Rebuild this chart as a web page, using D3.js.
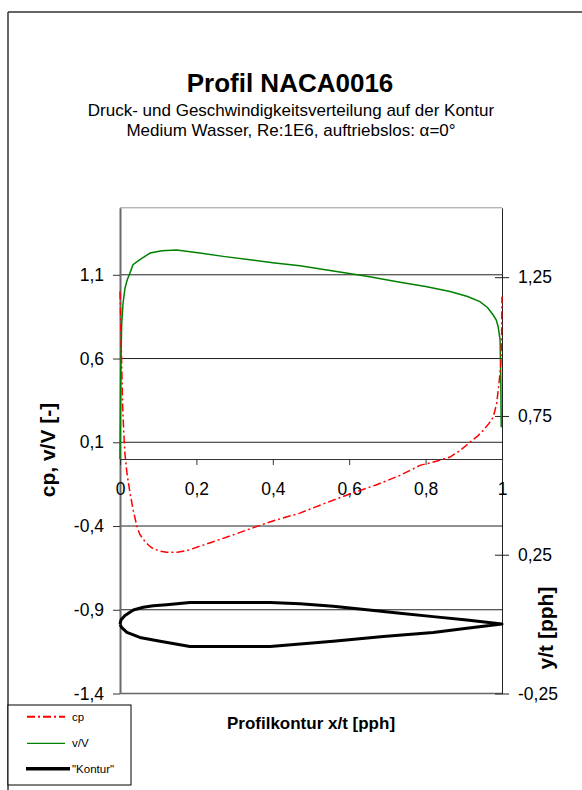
<!DOCTYPE html>
<html><head><meta charset="utf-8">
<script src="https://cdn.jsdelivr.net/npm/d3@7"></script>
<style>
body{margin:0;background:#fff}
svg{display:block}
text{font-family:"Liberation Sans",Arial,sans-serif;fill:#000}
</style>
</head><body>
<svg id="c" width="582" height="790"></svg>
<script>
// ---- data ----
const xTicks = [0, 0.2, 0.4, 0.6, 0.8, 1];
const xTickLabels = ["0", "0,2", "0,4", "0,6", "0,8", "1"];
const leftTicks = [-1.4, -0.9, -0.4, 0.1, 0.6, 1.1];
const leftTickLabels = ["-1,4", "-0,9", "-0,4", "0,1", "0,6", "1,1"];
const rightTicks = [-0.25, 0.25, 0.75, 1.25];
const rightTickLabels = ["-0,25", "0,25", "0,75", "1,25"];

const cpX = [0, 0.001, 0.002, 0.004, 0.007, 0.010, 0.013, 0.018, 0.026, 0.035, 0.044, 0.052, 0.061, 0.075, 0.087, 0.105, 0.122, 0.15, 0.175, 0.21, 0.253, 0.30, 0.34, 0.40, 0.471, 0.53, 0.60, 0.67, 0.733, 0.785, 0.83, 0.864, 0.89, 0.916, 0.935, 0.951, 0.965, 0.977, 0.986, 0.993, 0.997, 0.999, 1.0];
const cpY = [1.0, 0.92, 0.80, 0.60, 0.31, 0.15, 0.03, -0.08, -0.20, -0.31, -0.40, -0.45, -0.48, -0.515, -0.536, -0.55, -0.557, -0.556, -0.547, -0.52, -0.487, -0.45, -0.417, -0.37, -0.323, -0.27, -0.21, -0.155, -0.098, -0.038, -0.012, 0.012, 0.05, 0.10, 0.135, 0.171, 0.21, 0.25, 0.33, 0.47, 0.57, 0.75, 0.97];

const vX = [0, 0.001, 0.002, 0.0045, 0.008, 0.013, 0.019, 0.026, 0.034, 0.052, 0.079, 0.11, 0.148, 0.209, 0.27, 0.34, 0.40, 0.471, 0.55, 0.65, 0.733, 0.80, 0.864, 0.91, 0.942, 0.962, 0.977, 0.985, 0.990, 0.995, 0.997, 0.998];
const vY = [0.0, 0.25, 0.55, 0.81, 0.93, 1.02, 1.07, 1.11, 1.16, 1.19, 1.23, 1.243, 1.248, 1.23, 1.21, 1.19, 1.172, 1.154, 1.125, 1.09, 1.056, 1.03, 1.0, 0.97, 0.94, 0.905, 0.86, 0.83, 0.79, 0.71, 0.45, 0.19];

const konturX = [0, 0.003, 0.013, 0.035, 0.061, 0.087, 0.122, 0.183, 0.393, 0.471, 0.558, 0.646, 0.733, 0.82, 0.908, 1.0, 0.908, 0.82, 0.689, 0.558, 0.393, 0.183, 0.105, 0.052, 0.018, 0.004, 0];
const konturY = [0, 0.016, 0.031, 0.051, 0.061, 0.066, 0.070, 0.078, 0.078, 0.073, 0.064, 0.052, 0.039, 0.027, 0.015, 0.0, -0.015, -0.030, -0.045, -0.062, -0.081, -0.081, -0.062, -0.048, -0.030, -0.012, 0];

const legendNames = ["cp", "v/V", "\"Kontur\""];

// ---- layout ----
const svg = d3.select("#c");
const L = 120, R = 502, T = 207.8, B = 693.5;
const x = d3.scaleLinear().domain([0, 1]).range([L, R]);
const yL = d3.scaleLinear().domain([-1.4, 1.5]).range([B, T]);
const yR = d3.scaleLinear().domain([-0.25, 1.5]).range([B, T]);
const FONT = 17.5;

// chart border (top + left)
svg.append("line").attr("x1", 8).attr("x2", 600).attr("y1", 12).attr("y2", 12).attr("stroke", "#333").attr("stroke-width", 1.5);
svg.append("line").attr("x1", 8).attr("x2", 8).attr("y1", 12).attr("y2", 800).attr("stroke", "#333").attr("stroke-width", 1.5);

// titles
svg.append("text").attr("x", 290).attr("y", 92).attr("text-anchor", "middle")
  .attr("font-size", 26).attr("font-weight", "bold").text("Profil NACA0016");
svg.append("text").attr("x", 291).attr("y", 116).attr("text-anchor", "middle")
  .attr("font-size", 17).text("Druck- und Geschwindigkeitsverteilung auf der Kontur");
svg.append("text").attr("x", 291).attr("y", 136).attr("text-anchor", "middle")
  .attr("font-size", 17).text("Medium Wasser, Re:1E6, auftriebslos: α=0°");

// top border of plot area
svg.append("line").attr("x1", L).attr("x2", R).attr("y1", T).attr("y2", T).attr("stroke", "#999").attr("stroke-width", 1);

// gridlines
svg.append("g").selectAll("line").data(leftTicks).join("line")
  .attr("x1", L).attr("x2", R)
  .attr("y1", d => yL(d)).attr("y2", d => yL(d))
  .attr("stroke", (d, i) => i === 0 ? "#666" : "#222").attr("stroke-width", (d, i) => i === 0 ? 1.5 : 1);

// left axis
const gl = svg.append("g").attr("transform", `translate(${L},0)`)
  .call(d3.axisLeft(yL).tickValues(leftTicks).tickFormat((d, i) => leftTickLabels[i]).tickSize(7).tickSizeOuter(0).tickPadding(9));
gl.select(".domain").attr("stroke", "#6a6a6a").attr("stroke-width", 2);
gl.selectAll(".tick line").attr("stroke", "#333");
gl.selectAll("text").attr("font-size", FONT).attr("font-family", "Liberation Sans, Arial, sans-serif");

// right axis
const gr = svg.append("g").attr("transform", `translate(${R},0)`)
  .call(d3.axisRight(yR).tickValues(rightTicks).tickFormat((d, i) => rightTickLabels[i]).tickSize(7).tickSizeOuter(0).tickPadding(9));
gr.select(".domain").attr("stroke", "#222").attr("stroke-width", 1);
gr.selectAll(".tick line").attr("x1", -7).attr("stroke", "#222");
gr.selectAll("text").attr("font-size", FONT).attr("font-family", "Liberation Sans, Arial, sans-serif");

// x axis at cp = 0
const gx = svg.append("g").attr("transform", `translate(0,${yL(0)})`)
  .call(d3.axisBottom(x).tickValues(xTicks).tickFormat((d, i) => xTickLabels[i]).tickSize(6).tickSizeOuter(0).tickPadding(17.5));
gx.select(".domain").attr("stroke", "#333").attr("stroke-width", 1);
gx.selectAll(".tick line").attr("stroke", "#333");
gx.selectAll("text").attr("font-size", FONT).attr("font-family", "Liberation Sans, Arial, sans-serif");

// axis titles
svg.append("text").attr("transform", `translate(55,450) rotate(-90)`).attr("text-anchor", "middle")
  .attr("font-size", 21).attr("font-weight", "bold").text("cp, v/V [-]");
svg.append("text").attr("transform", `translate(553,628) rotate(-90)`).attr("text-anchor", "middle")
  .attr("font-size", 21).attr("font-weight", "bold").text("y/t [pph]");
svg.append("text").attr("x", 311).attr("y", 729).attr("text-anchor", "middle")
  .attr("font-size", 17).attr("font-weight", "bold").text("Profilkontur x/t [pph]");

// series
const cpData = cpX.map((d, i) => [d, cpY[i]]);
const vData = vX.map((d, i) => [d, vY[i]]);
const kData = konturX.map((d, i) => [d, konturY[i]]);

svg.append("path").datum(kData)
  .attr("d", d3.line().x(d => x(d[0])).y(d => yR(d[1])))
  .attr("fill", "none").attr("stroke", "#000").attr("stroke-width", 3).attr("stroke-linejoin", "round");
svg.append("path").datum(vData)
  .attr("d", d3.line().x(d => x(d[0])).y(d => yL(d[1])))
  .attr("fill", "none").attr("stroke", "#008000").attr("stroke-width", 1.5);
svg.append("path").datum(cpData)
  .attr("d", d3.line().x(d => x(d[0])).y(d => yL(d[1])))
  .attr("fill", "none").attr("stroke", "#ff0000").attr("stroke-width", 1.5).attr("stroke-dasharray", "8,3,2,3");

// legend
const lg = svg.append("g");
lg.append("rect").attr("x", 8).attr("y", 705).attr("width", 123).attr("height", 80)
  .attr("fill", "#fff").attr("stroke", "#000").attr("stroke-width", 1);
const legY = [716.7, 743.3, 768.7];
const legStyles = [
  {stroke: "#ff0000", w: 2, dash: "8,3,2,3", x1: 27, x2: 65},
  {stroke: "#008000", w: 1.2, dash: null, x1: 27, x2: 65},
  {stroke: "#000", w: 3.5, dash: null, x1: 26, x2: 70}
];
legendNames.forEach((n, i) => {
  const s = legStyles[i];
  lg.append("line").attr("x1", s.x1).attr("x2", s.x2).attr("y1", legY[i]).attr("y2", legY[i])
    .attr("stroke", s.stroke).attr("stroke-width", s.w).attr("stroke-dasharray", s.dash);
  lg.append("text").attr("x", 72).attr("y", legY[i]).attr("dy", "0.35em")
    .attr("font-size", 11.5).text(n);
});
</script>
</body></html>
